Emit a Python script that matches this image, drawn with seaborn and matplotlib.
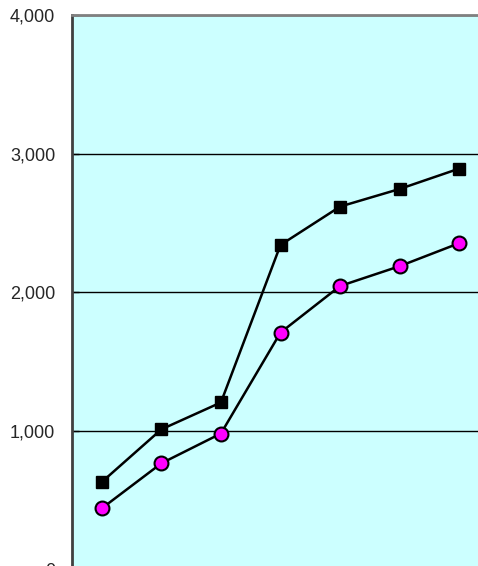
import numpy as np
import pandas as pd
import seaborn as sns
import matplotlib
matplotlib.use("Agg")
import matplotlib.pyplot as plt
from matplotlib.ticker import FuncFormatter

# values
categories = ["1", "2", "3", "4", "5", "6", "7"]
series_squares = [631, 1011, 1205, 2341, 2618, 2745, 2892]
series_circles = [441, 766, 981, 1709, 2045, 2188, 2354]
y_ticks = [0, 1000, 2000, 3000, 4000]

df = pd.DataFrame({
    "cat": categories * 2,
    "value": series_squares + series_circles,
    "series": ["A"] * len(categories) + ["B"] * len(categories),
})

sns.set_style("white")
plt.rcParams['font.family'] = ['Liberation Sans', 'DejaVu Sans']

fig = plt.figure(figsize=(4.78, 5.66), dpi=100)
ax = fig.add_axes([72 / 478, 1 - 569.5 / 566, 417 / 478, 554.5 / 566])
ax.set_facecolor("#CCFFFF")

# line pieces first, then markers
sns.lineplot(data=df, x="cat", y="value", hue="series", palette=["black", "black"],
             linewidth=1.8, legend=False, ax=ax, sort=False)
sns.lineplot(data=df[df.series == "A"], x="cat", y="value", color="black", linewidth=0,
             marker="s", markersize=9, markeredgecolor="black", markeredgewidth=1,
             legend=False, ax=ax)
sns.lineplot(data=df[df.series == "B"], x="cat", y="value", color="#FF00FF", linewidth=0,
             marker="o", markersize=10, markeredgecolor="black", markeredgewidth=1.5,
             legend=False, ax=ax)

ax.set_xlim(-0.5, len(categories) - 0.5)
ax.set_ylim(0, 4000)
ax.set_yticks(y_ticks)
ax.yaxis.set_major_formatter(FuncFormatter(lambda v, p: f"{int(v):,}"))
ax.set_xticks([])
ax.set_xlabel("")
ax.set_ylabel("")
ax.grid(axis="y", color="black", linewidth=1)
ax.set_axisbelow(True)
ax.tick_params(axis="y", direction="in", length=5, width=1, color="black",
               labelsize=13, pad=12, left=True)

for side in ["right", "bottom"]:
    ax.spines[side].set_visible(False)
ax.spines["left"].set_color("#404040")
ax.spines["left"].set_linewidth(2)
ax.spines["top"].set_color("#808080")
ax.spines["top"].set_linewidth(2)

fig.savefig("out.png", dpi=100)
